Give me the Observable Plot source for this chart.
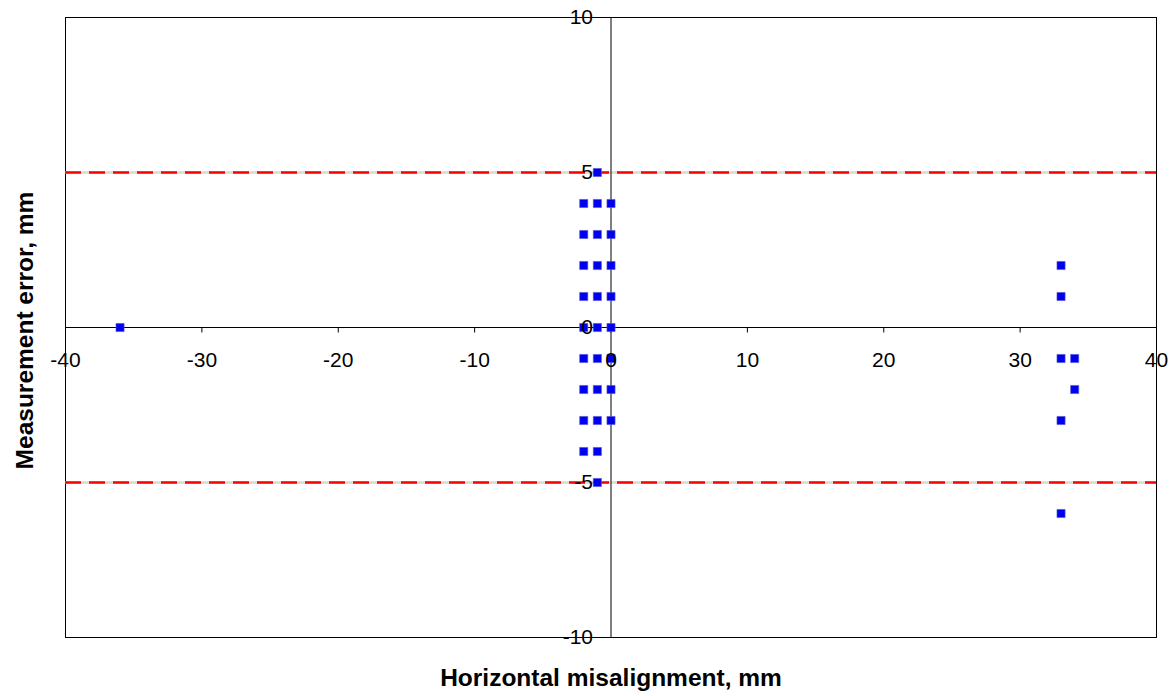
<!DOCTYPE html>
<html>
<head>
<meta charset="utf-8">
<script src="https://cdn.jsdelivr.net/npm/d3@7"></script>
<script src="https://cdn.jsdelivr.net/npm/@observablehq/plot@0.6"></script>
<style>
  html, body { margin: 0; padding: 0; background: #fff; }
  svg { display: block; }
</style>
</head>
<body>
<div id="chart"></div>
<script>
// Data
const misalignX = [-36,
  -1,
  -2, -1, 0,
  -2, -1, 0,
  -2, -1, 0,
  -2, -1, 0,
  -2, -1, 0,
  -2, -1, 0,
  -2, -1, 0,
  -2, -1, 0,
  -2, -1,
  -1,
  33, 33, 33, 34, 34, 33, 33];
const errorY = [0,
  5,
  4, 4, 4,
  3, 3, 3,
  2, 2, 2,
  1, 1, 1,
  0, 0, 0,
  -1, -1, -1,
  -2, -2, -2,
  -3, -3, -3,
  -4, -4,
  -5,
  2, 1, -1, -1, -2, -3, -6];
const xTicks = [-40, -30, -20, -10, 0, 10, 20, 30, 40];
const yTicks = [-10, -5, 0, 5, 10];
const limits = [5, -5];
const xTitle = "Horizontal misalignment, mm";
const yTitle = "Measurement error, mm";

const points = misalignX.map((x, i) => ({x, y: errorY[i]}));

const tickSymbol = {
  draw(ctx) { ctx.moveTo(0, 0); ctx.lineTo(0, 5); }
};

const chart = Plot.plot({
  width: 1175,
  height: 696,
  marginLeft: 65,
  marginRight: 19,
  marginTop: 17,
  marginBottom: 59,
  x: {domain: [-40, 40], axis: null},
  y: {domain: [-10, 10], axis: null},
  style: {fontFamily: "'Liberation Sans', Arial, sans-serif", background: "#fff"},
  marks: [
    Plot.frame({stroke: "black", strokeWidth: 1}),
    Plot.ruleY(limits, {stroke: "#d9d9d9", strokeWidth: 2.5}),
    Plot.ruleY(limits, {stroke: "#ff0000", strokeWidth: 2.5, strokeDasharray: "16,8"}),
    Plot.ruleX([0], {stroke: "black", strokeWidth: 1}),
    Plot.ruleY([0], {stroke: "black", strokeWidth: 1}),
    Plot.dot(xTicks, {x: d => d, y: 0, symbol: tickSymbol, stroke: "black", strokeWidth: 1, fill: "none"}),
    Plot.dot(points, {x: "x", y: "y", symbol: "square", r: 4.6, fill: "#0000ee", stroke: "#5a5ad8", strokeWidth: 0.6}),
    Plot.text(xTicks, {x: d => d, y: 0, dy: 33, text: d => String(d), fontSize: 21, fill: "black"}),
    Plot.text(yTicks, {x: 0, y: d => d, dx: -18, text: d => String(d), textAnchor: "end", fontSize: 21, fill: "black"}),
    Plot.text([xTitle], {frameAnchor: "bottom", dy: 41, text: d => d, textAnchor: "middle", lineAnchor: "middle", fontSize: 24.5, fontWeight: "bold", fill: "black"}),
    Plot.text([yTitle], {frameAnchor: "left", dx: -40, dy: 3, rotate: -90, text: d => d, textAnchor: "middle", lineAnchor: "middle", fontSize: 24.5, fontWeight: "bold", fill: "black"})
  ]
});
document.getElementById("chart").appendChild(chart);
</script>
</body>
</html>
